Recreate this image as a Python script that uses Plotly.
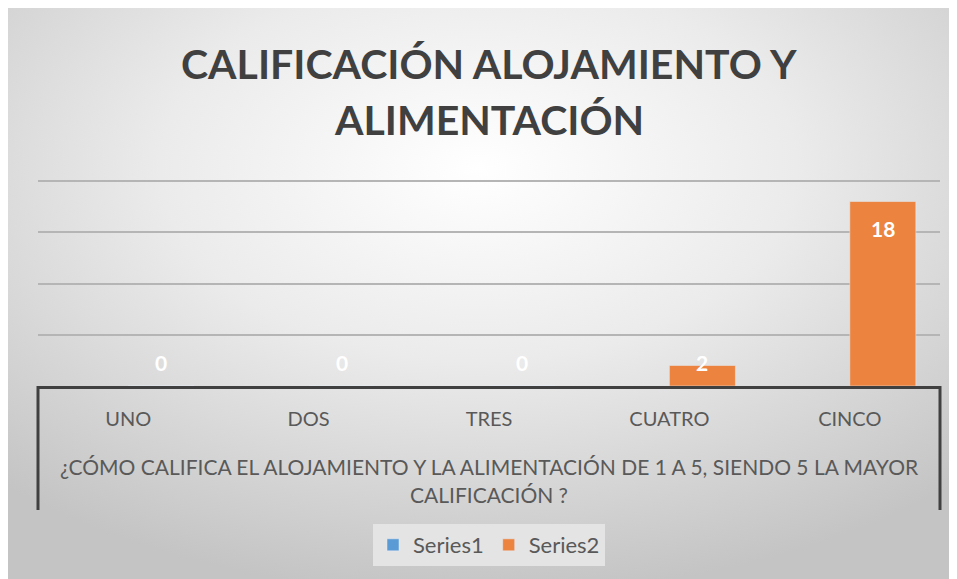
import base64
import plotly.graph_objects as go

categories = ["UNO", "DOS", "TRES", "CUATRO", "CINCO"]
series1 = [None, None, None, None, None]
series2 = [0, 0, 0, 2, 18]
series_names = ["Series1", "Series2"]
title_lines = ["CALIFICACIÓN ALOJAMIENTO Y", "ALIMENTACIÓN"]
axis_title = ("¿CÓMO CALIFICA EL ALOJAMIENTO Y LA ALIMENTACIÓN DE 1 A 5, SIENDO 5 LA MAYOR"
              "<br>CALIFICACIÓN ?")
y_ticks = [0, 5, 10, 15, 20]

# page body has an 8px margin, so figure coords = screen coords - 8
OFF = 8
W, H = 949, 571
L, R, T, B = 30, 17, 172, 193
PW, PH = W - L - R, H - T - B
FONT = "Lato"
TXT = "#595959"


def px_x(p):
    return (p - OFF - L) / PW


def px_y(p):
    return (H - B - (p - OFF)) / PH


svg = """<svg xmlns='http://www.w3.org/2000/svg' width='943' height='571' viewBox='0 0 943 571' preserveAspectRatio='none'>
<defs><radialGradient id='g' cx='0.5' cy='0.28' r='0.75' gradientUnits='objectBoundingBox'>
<stop offset='0' stop-color='#ffffff'/><stop offset='0.45' stop-color='#ebebeb'/><stop offset='1' stop-color='#c4c4c4'/>
</radialGradient></defs><rect width='943' height='571' fill='url(#g)'/></svg>"""
bg_src = "data:image/svg+xml;base64," + base64.b64encode(svg.encode()).decode()

fig = go.Figure()
fig.add_trace(go.Bar(x=categories, y=series1, name=series_names[0], marker_color="#5B9BD5"))
fig.add_trace(go.Bar(x=categories, y=series2, name=series_names[1], marker_color="#EC8440"))

annotations = []
for line, ypx in zip(title_lines, [63, 120]):
    annotations.append(dict(text=f"<b>{line}</b>", x=0.5, y=px_y(ypx), xref="paper", yref="paper",
                            xanchor="center", yanchor="middle", showarrow=False,
                            font=dict(family=FONT, size=41, color="#404040")))
for c, v in zip(categories, series2):
    annotations.append(dict(text=f"<b>{v}</b>", x=c, y=max(v - 2.6, 2.33), xref="x", yref="y",
                            xshift=33, showarrow=False, xanchor="center", yanchor="middle",
                            font=dict(family=FONT, size=21, color="#ffffff")))

shapes = [
    dict(type="line", xref="paper", yref="paper", x0=0, x1=0, y0=0, y1=px_y(510),
         line=dict(color="#404040", width=3)),
    dict(type="line", xref="paper", yref="paper", x0=1, x1=1, y0=0, y1=px_y(510),
         line=dict(color="#404040", width=3)),
]

fig.update_layout(
    width=W, height=H,
    margin=dict(l=L, r=R, t=T, b=B),
    paper_bgcolor="#ffffff",
    plot_bgcolor="rgba(0,0,0,0)",
    barmode="group", bargap=0.268, bargroupgap=0,
    images=[dict(source=bg_src, xref="paper", yref="paper", x=px_x(7), y=px_y(8),
                 sizex=943 / PW, sizey=571 / PH, xanchor="left", yanchor="top",
                 sizing="stretch", layer="below")],
    annotations=annotations,
    shapes=shapes,
    showlegend=True,
    legend=dict(orientation="h", x=0.5, y=px_y(545), xanchor="center", yanchor="middle",
                bgcolor="#e4e4e4", font=dict(family=FONT, size=22, color=TXT),
                itemwidth=30, traceorder="normal"),
    font=dict(family=FONT, color=TXT),
)
fig.update_xaxes(showline=True, linecolor="#404040", linewidth=3, ticks="",
                 ticklabelstandoff=13,
                 tickfont=dict(family=FONT, size=20, color=TXT),
                 title=dict(text=axis_title, font=dict(family=FONT, size=21, color=TXT), standoff=32))
fig.update_yaxes(range=[0, 20.1], tickvals=y_ticks, showticklabels=False, showgrid=True,
                 gridcolor="#b5b5b5", gridwidth=2, zeroline=False, showline=False)

fig.write_html("out.html")
